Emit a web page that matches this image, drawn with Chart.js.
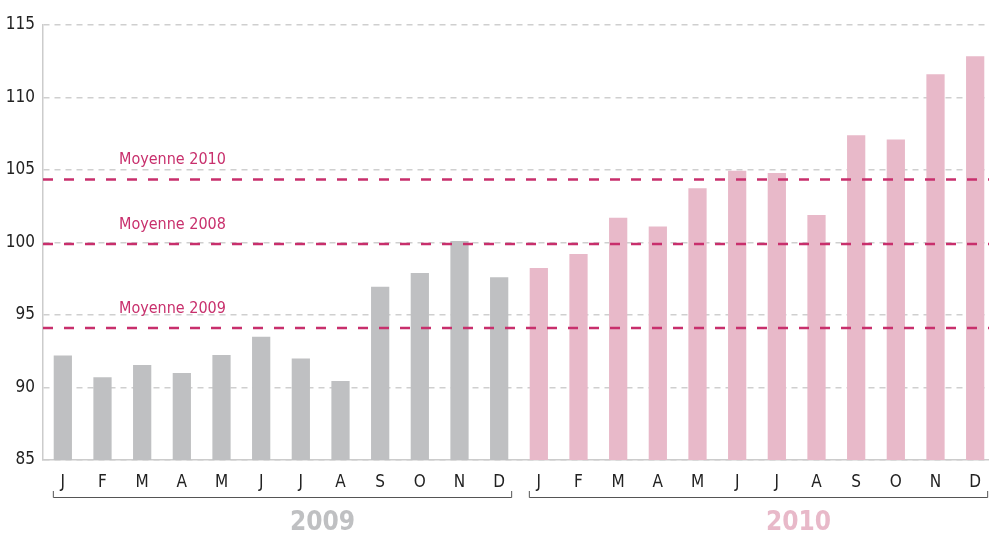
<!DOCTYPE html>
<html>
<head>
<meta charset="utf-8">
<script src="https://cdn.jsdelivr.net/npm/chart.js@4"></script>
<style>
  html, body { margin: 0; padding: 0; background: #fff; overflow: hidden; }
  #wrap { width: 995px; height: 534px; position: relative; }
</style>
</head>
<body>
<div id="wrap"><canvas id="indexChart"></canvas></div>
<script>
// Months (2009 then 2010)
const categories = ["J", "F", "M", "A", "M", "J", "J", "A", "S", "O", "N", "D",
                    "J", "F", "M", "A", "M", "J", "J", "A", "S", "O", "N", "D"];
const values2009 = [92.2, 90.7, 91.55, 91.0, 92.25, 93.5, 92.0, 90.45, 96.95, 97.9, 100.1, 97.6];
const values2010 = [98.25, 99.2, 101.7, 101.1, 103.75, 104.95, 104.8, 101.9, 107.4, 107.1, 111.6, 112.85];
const yTicks = [85, 90, 95, 100, 105, 110, 115];

// Average lines
const averageLabels = ["Moyenne 2010", "Moyenne 2008", "Moyenne 2009"];
const averageValues = [104.35, 99.9, 94.1];

const years = ["2009", "2010"];

const FONT = "'Liberation Sans Narrow', 'DejaVu Sans Condensed', 'Liberation Sans', sans-serif";
const GREY = "#bfc0c2";
const PINK = "#e8b9c9";
const AVG_COLOR = "#c82f6c";

const barColors = values2009.map(() => GREY).concat(values2010.map(() => PINK));

// Averages, brackets and years drawn on top of bars
const overlayPlugin = {
    id: "overlay",
    afterDatasetsDraw(chart) {
        const ctx = chart.ctx;
        const x = chart.scales.x;
        const y = chart.scales.y;
        const area = chart.chartArea;

        ctx.save();
        // average lines
        averageValues.forEach((v, i) => {
            const py = y.getPixelForValue(v);
            ctx.strokeStyle = AVG_COLOR;
            ctx.lineWidth = 2.5;
            ctx.setLineDash([10, 11]);
            ctx.beginPath();
            ctx.moveTo(area.left, py);
            ctx.lineTo(area.right, py);
            ctx.stroke();

            ctx.setLineDash([]);
            ctx.fillStyle = AVG_COLOR;
            ctx.font = "16px " + FONT;
            ctx.textAlign = "left";
            ctx.textBaseline = "alphabetic";
            ctx.fillText(averageLabels[i], 119, py - 15);
        });

        // year brackets
        const groups = [[0, values2009.length - 1], [values2009.length, categories.length - 1]];
        const yearColors = [GREY, PINK];
        const by = 497;
        groups.forEach((g, i) => {
            const left = x.getPixelForValue(g[0]) - 10;
            const right = x.getPixelForValue(g[1]) + 13;
            ctx.strokeStyle = "#555";
            ctx.lineWidth = 1;
            ctx.beginPath();
            ctx.moveTo(left + 0.5, by - 6);
            ctx.lineTo(left + 0.5, by + 0.5);
            ctx.lineTo(right - 0.5, by + 0.5);
            ctx.lineTo(right - 0.5, by - 6);
            ctx.stroke();

            ctx.fillStyle = yearColors[i];
            ctx.font = "bold 26px " + FONT;
            ctx.textAlign = "center";
            ctx.textBaseline = "middle";
            ctx.fillText(years[i], (left + right) / 2 + 40, 523);
        });
        ctx.restore();
    }
};

new Chart(document.getElementById("indexChart"), {
    type: "bar",
    data: {
        labels: categories,
        datasets: [{
            data: values2009.concat(values2010),
            backgroundColor: barColors,
            barPercentage: 0.46,
            categoryPercentage: 1.0,
        }],
    },
    options: {
        responsive: true,
        maintainAspectRatio: false,
        animation: false,
        layout: { padding: { top: 25, right: 0, left: 0, bottom: 0 } },
        plugins: {
            legend: { display: false },
            tooltip: { enabled: false },
        },
        scales: {
            x: {
                grid: { display: false },
                border: { display: true, color: "#ccc", width: 1.5 },
                ticks: {
                    color: "#222",
                    font: { family: FONT, size: 17 },
                    padding: 4,
                    maxRotation: 0,
                    autoSkip: false,
                },
                afterFit(scale) { scale.height = 74; },
            },
            y: {
                min: 85,
                max: 115,
                afterBuildTicks(scale) {
                    scale.ticks = yTicks.map(v => ({ value: v }));
                },
                grid: {
                    color: "#cfcfcf",
                    lineWidth: 1.5,
                    drawTicks: false,
                },
                border: { display: true, color: "#ccc", width: 1.5, dash: [6, 5] },
                ticks: {
                    color: "#222",
                    font: { family: FONT, size: 17 },
                    padding: 8,
                },
                afterFit(scale) { scale.width = 43; },
            },
        },
    },
    plugins: [overlayPlugin],
});
</script>
</body>
</html>
